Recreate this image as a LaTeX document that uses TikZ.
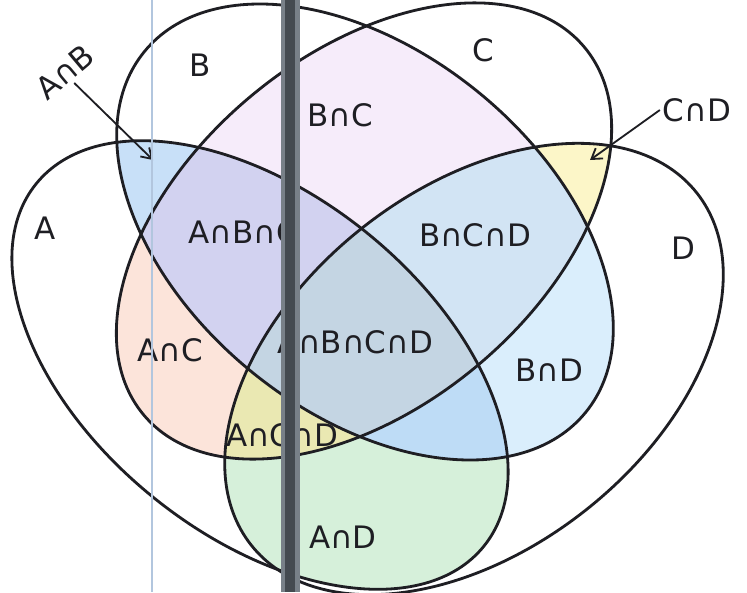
\documentclass[tikz,border=0pt]{standalone}
\usepackage{fontspec}
\setmainfont{DejaVu Sans}
\usetikzlibrary{arrows.meta}
\definecolor{inkgrey}{RGB}{30,30,35}
\definecolor{vnAB}{RGB}{200,224,248}
\definecolor{vnAC}{RGB}{252,228,218}
\definecolor{vnAD}{RGB}{214,240,218}
\definecolor{vnBC}{RGB}{246,236,250}
\definecolor{vnBD}{RGB}{218,238,252}
\definecolor{vnCD}{RGB}{252,246,200}
\definecolor{vnABC}{RGB}{210,210,240}
\definecolor{vnABD}{RGB}{190,220,246}
\definecolor{vnACD}{RGB}{234,232,178}
\definecolor{vnBCD}{RGB}{210,228,244}
\definecolor{vnABCD}{RGB}{196,213,227}
\definecolor{scanbar}{RGB}{120,128,136}
\definecolor{scancore}{RGB}{68,74,80}
\definecolor{scanline}{RGB}{178,198,222}
% the four sets
\newcommand{\ellA}{(260,365) ellipse [x radius=288, y radius=170, rotate=-39]}
\newcommand{\ellB}{(365,232) ellipse [x radius=285, y radius=180, rotate=-39.3]}
\newcommand{\ellC}{(364,231) ellipse [x radius=287, y radius=176, rotate=39.8]}
\newcommand{\ellD}{(474,369) ellipse [x radius=284, y radius=180, rotate=38.3]}

\begin{document}
\begin{tikzpicture}[x=0.025cm, y=-0.025cm,
  lbl/.style={text=inkgrey,font=\fontsize{22}{26}\selectfont,inner sep=2pt},
  rim/.style={draw=inkgrey,line width=2pt},
  arr/.style={-{Straight Barb[length=7pt,width=9pt]},inkgrey,line width=1.3pt}]
  \useasboundingbox (0,0) rectangle (747,592);
  \fill[white] (0,0) rectangle (747,592);
  % two sets
  \begin{scope} \clip \ellA; \fill[vnAB] \ellB; \end{scope}
  \begin{scope} \clip \ellA; \fill[vnAC] \ellC; \end{scope}
  \begin{scope} \clip \ellA; \fill[vnAD] \ellD; \end{scope}
  \begin{scope} \clip \ellB; \fill[vnBC] \ellC; \end{scope}
  \begin{scope} \clip \ellB; \fill[vnBD] \ellD; \end{scope}
  \begin{scope} \clip \ellC; \fill[vnCD] \ellD; \end{scope}
  % three sets
  \begin{scope} \clip \ellA; \clip \ellB; \fill[vnABC] \ellC; \end{scope}
  \begin{scope} \clip \ellA; \clip \ellB; \fill[vnABD] \ellD; \end{scope}
  \begin{scope} \clip \ellA; \clip \ellC; \fill[vnACD] \ellD; \end{scope}
  \begin{scope} \clip \ellB; \clip \ellC; \fill[vnBCD] \ellD; \end{scope}
  % all four
  \begin{scope} \clip \ellA; \clip \ellB; \clip \ellC; \fill[vnABCD] \ellD; \end{scope}
  % outlines
  \draw[rim] \ellA;
  \draw[rim] \ellB;
  \draw[rim] \ellC;
  \draw[rim] \ellD;
  % set names
  \node[lbl] (nameA) at (45,228) {A};
  \node[lbl] (nameB) at (200,65) {B};
  \node[lbl] (nameC) at (483,50) {C};
  \node[lbl] (nameD) at (683,248) {D};
  % regions
  \node[lbl] (regBC) at (340,115) {B∩C};
  \node[lbl] (regABC) at (243,232) {A∩B∩C};
  \node[lbl] (regBCD) at (475,235) {B∩C∩D};
  \node[lbl] (regAC) at (170,350) {A∩C};
  \node[lbl] (regABCD) at (355,342) {A∩B∩C∩D};
  \node[lbl] (regBD) at (549,370) {B∩D};
  \node[lbl] (regACD) at (282,435) {A∩C∩D};
  \node[lbl] (regAD) at (343,537) {A∩D};
  % outside labels with pointers
  \node[lbl,rotate=40] (regAB) at (65,72) {A∩B};
  \node[lbl] (regCD) at (697,110) {C∩D};
  \coordinate (tipAB) at (153,160);
  \coordinate (tipCD) at (590,160);
  \draw[arr] (regAB.south) -- (tipAB);
  \draw[arr] (regCD.west) -- (tipCD);
  % scanner streaks
  \fill[scanline] (151.2,0) rectangle (152.8,592);
  \fill[scanbar] (281,0) rectangle (300,592);
  \fill[scancore] (285,0) rectangle (295,592);
\end{tikzpicture}
\end{document}
